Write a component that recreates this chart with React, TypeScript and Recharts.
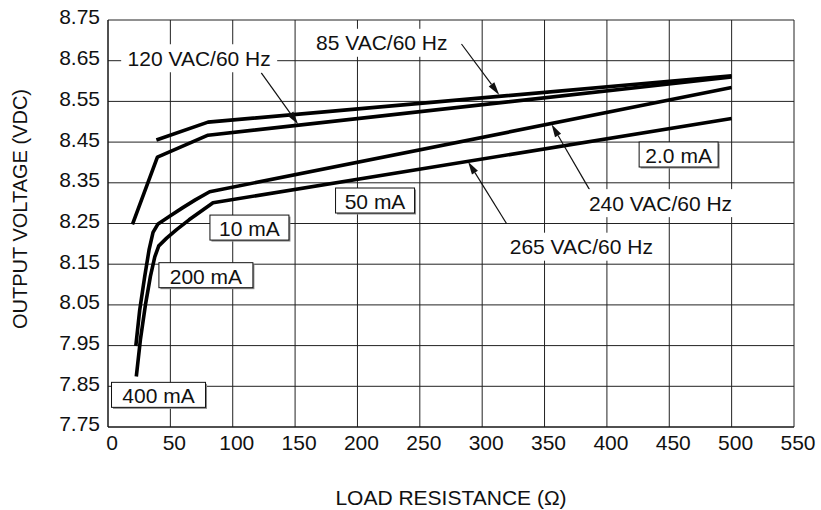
import React from "react";
import {
  LineChart,
  Line,
  XAxis,
  YAxis,
  CartesianGrid,
  ReferenceDot,
  ReferenceLine,
} from "recharts";

// load resistance (ohm) vs output voltage (VDC)
const vac85 = [
  { r: 38.8, v: 8.455 },
  { r: 80.2, v: 8.499 },
  { r: 500, v: 8.613 },
];

const vac120 = [
  { r: 19.6, v: 8.248 },
  { r: 39.6, v: 8.413 },
  { r: 80.2, v: 8.467 },
  { r: 500, v: 8.61 },
];

const vac240 = [
  { r: 22.3, v: 7.949 },
  { r: 25.4, v: 8.037 },
  { r: 29.4, v: 8.119 },
  { r: 32.9, v: 8.185 },
  { r: 36.1, v: 8.228 },
  { r: 40.1, v: 8.249 },
  { r: 50, v: 8.269 },
  { r: 60, v: 8.289 },
  { r: 70, v: 8.308 },
  { r: 81.5, v: 8.328 },
  { r: 500, v: 8.584 },
];

const vac265 = [
  { r: 22.7, v: 7.874 },
  { r: 26, v: 7.965 },
  { r: 30, v: 8.05 },
  { r: 34, v: 8.12 },
  { r: 37.5, v: 8.168 },
  { r: 40.7, v: 8.195 },
  { r: 47, v: 8.214 },
  { r: 55, v: 8.235 },
  { r: 65, v: 8.259 },
  { r: 84.2, v: 8.301 },
  { r: 500, v: 8.508 },
];

const xTicks = [0, 50, 100, 150, 200, 250, 300, 350, 400, 450, 500, 550];
const yTicks = [7.75, 7.85, 7.95, 8.05, 8.15, 8.25, 8.35, 8.45, 8.55, 8.65, 8.75];

// annotations (anchored in data space)
const curveLabels = [
  { text: "120 VAC/60 Hz", r: 73.1, v: 8.656 },
  { text: "85 VAC/60 Hz", r: 219.5, v: 8.694 },
  { text: "240 VAC/60 Hz", r: 443, v: 8.3 },
  { text: "265 VAC/60 Hz", r: 379.5, v: 8.193 },
];

const arrows = [
  { from: { r: 122.9, v: 8.62 }, to: { r: 152.4, v: 8.494 } },
  { from: { r: 283.4, v: 8.691 }, to: { r: 313.7, v: 8.566 } },
  { from: { r: 386.3, v: 8.332 }, to: { r: 355.6, v: 8.494 } },
  { from: { r: 319.5, v: 8.25 }, to: { r: 288.7, v: 8.402 } },
];

const boxLabels = [
  { text: "2.0 mA", r: 457.5, v: 8.4195, wide: false },
  { text: "50 mA", r: 214.1, v: 8.3065, wide: false },
  { text: "10 mA", r: 113.4, v: 8.24, wide: false },
  { text: "200 mA", r: 78.5, v: 8.123, wide: true },
  { text: "400 mA", r: 40.5, v: 7.829, wide: true },
];

const FONT = '"Liberation Sans", Arial, Helvetica, sans-serif';

const textLabel = (text: string) => (props: any) => {
  const { cx, cy } = props;
  if (cx == null || cy == null) return <g />;
  const w = 156;
  return (
    <g>
      <rect x={cx - w / 2} y={cy - 14} width={w} height={28} fill="#fff" />
      <text
        x={cx}
        y={cy}
        textAnchor="middle"
        dominantBaseline="central"
        fontSize={21}
        fontFamily={FONT}
        fill="#111"
      >
        {text}
      </text>
    </g>
  );
};

const boxLabel = (text: string, wide: boolean) => (props: any) => {
  const { cx, cy } = props;
  if (cx == null || cy == null) return <g />;
  const w = wide ? 94 : 79;
  const h = 25;
  return (
    <g>
      <rect x={cx - w / 2 + 1.5} y={cy - h / 2 + 1.5} width={w} height={h} fill="#8a8a8a" />
      <rect
        x={cx - w / 2}
        y={cy - h / 2}
        width={w}
        height={h}
        fill="#fff"
        stroke="#111"
        strokeWidth={1}
      />
      <text
        x={cx}
        y={cy + 1}
        textAnchor="middle"
        dominantBaseline="central"
        fontSize={21}
        fontFamily={FONT}
        fill="#111"
      >
        {text}
      </text>
    </g>
  );
};

const arrowShape = (props: any) => {
  const { x1, y1, x2, y2 } = props;
  if ([x1, y1, x2, y2].some((n) => n == null || isNaN(n))) return <g />;
  const dx = x2 - x1;
  const dy = y2 - y1;
  const len = Math.sqrt(dx * dx + dy * dy);
  const ux = dx / len;
  const uy = dy / len;
  const hl = 13;
  const hw = 3.5;
  const bx = x2 - ux * hl;
  const by = y2 - uy * hl;
  const pts = [
    `${x2},${y2}`,
    `${bx - uy * hw},${by + ux * hw}`,
    `${bx + uy * hw},${by - ux * hw}`,
  ].join(" ");
  return (
    <g>
      <line x1={x1} y1={y1} x2={bx} y2={by} stroke="#111" strokeWidth={1.2} />
      <polygon points={pts} fill="#111" />
    </g>
  );
};

export default function App() {
  const tickStyle = { fill: "#111", fontSize: 21, fontFamily: FONT };
  return (
    <div style={{ position: "absolute", left: 0, top: 0, background: "#fff" }}>
      <LineChart
        width={821}
        height={510}
        margin={{ top: 20, right: 27, bottom: 53, left: 48 }}
      >
        <CartesianGrid stroke="#222" strokeWidth={1} />
        <XAxis
          type="number"
          dataKey="r"
          domain={[0, 550]}
          ticks={xTicks}
          height={30}
          tickLine={false}
          axisLine={{ stroke: "#111" }}
          tick={tickStyle}
          dx={4}
          allowDataOverflow
          label={(p: any) => {
            const vb = p.viewBox || { x: 108, y: 427, width: 686 };
            return (
              <text
                x={vb.x + vb.width / 2}
                y={505}
                textAnchor="middle"
                fontSize={21}
                fontFamily={FONT}
                fill="#111"
              >
                LOAD RESISTANCE (Ω)
              </text>
            );
          }}
        />
        <YAxis
          type="number"
          domain={[7.75, 8.75]}
          ticks={yTicks}
          width={60}
          tickLine={false}
          axisLine={{ stroke: "#111" }}
          tick={tickStyle}
          tickFormatter={(v: number) => v.toFixed(2)}
          dy={-3}
          allowDataOverflow
          label={() => (
            <text
              x={20}
              y={209}
              transform="rotate(-90 20 209)"
              textAnchor="middle"
              dominantBaseline="central"
              fontSize={20}
              fontFamily={FONT}
              fill="#111"
            >
              OUTPUT VOLTAGE (VDC)
            </text>
          )}
        />
        {curveLabels.map((l) => (
          <ReferenceDot key={l.text} x={l.r} y={l.v} r={0} shape={textLabel(l.text)} />
        ))}
        {[vac85, vac120, vac240, vac265].map((d, i) => (
          <Line
            key={i}
            data={d}
            dataKey="v"
            type="linear"
            stroke="#000"
            strokeWidth={3.6}
            strokeLinejoin="round"
            dot={false}
            activeDot={false}
            isAnimationActive={false}
          />
        ))}
        {arrows.map((a, i) => (
          <ReferenceLine
            key={i}
            segment={[
              { x: a.from.r, y: a.from.v },
              { x: a.to.r, y: a.to.v },
            ]}
            shape={arrowShape}
          />
        ))}
        {boxLabels.map((b) => (
          <ReferenceDot
            key={b.text}
            x={b.r}
            y={b.v}
            r={0}
            shape={boxLabel(b.text, b.wide)}
          />
        ))}
      </LineChart>
    </div>
  );
}
